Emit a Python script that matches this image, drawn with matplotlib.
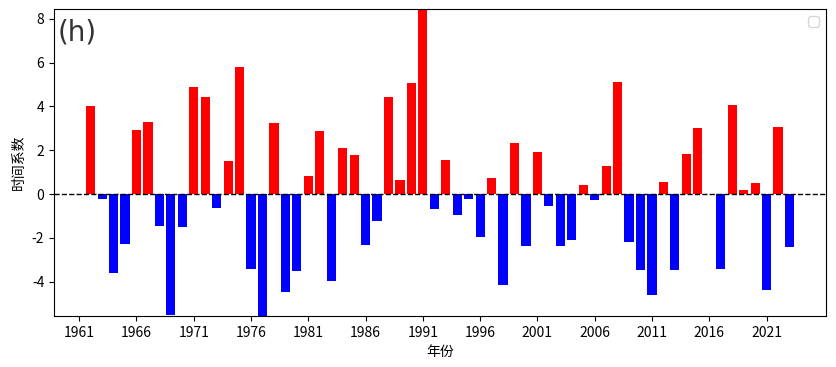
import matplotlib
matplotlib.use("Agg")
import matplotlib.pyplot as plt
import numpy as np

plt.rcParams['font.family'] = ['Noto Sans CJK SC', 'DejaVu Sans']
plt.rcParams['axes.unicode_minus'] = False

years = list(range(1962, 2024))
values = [
    4.00, -0.23, -3.59, -2.27, 2.92, 3.29, -1.45, -5.51, -1.49, 4.89,   # 1962-1971
    4.43, -0.62, 1.51, 5.80, -3.44, -5.57, 3.24, -4.46, -3.50, 0.84,    # 1972-1981
    2.88, -3.96, 2.12, 1.80, -2.31, -1.22, 4.43, 0.64, 5.07, 8.45,      # 1982-1991
    -0.70, 1.55, -0.94, -0.21, -1.95, 0.73, -4.14, 2.33, -2.36, 1.92,   # 1992-2001
    -0.53, -2.36, -2.12, 0.43, -0.26, 1.29, 5.11, -2.21, -3.45, -4.60,  # 2002-2011
    0.55, -3.45, 1.83, 3.01, 0.00, -3.41, 4.06, 0.18, 0.50, -4.37,      # 2012-2021
    3.06, -2.41,                                                        # 2022-2023
]
xticks = list(range(1961, 2022, 5))
yticks = [-4, -2, 0, 2, 4, 6, 8]

fig = plt.figure(figsize=(8.37, 3.67), dpi=100)
ax = fig.add_axes([0.0645, 0.139, 0.9225, 0.8365])

colors = ['red' if v > 0 else 'blue' for v in values]
ax.bar(years, values, width=0.8, color=colors)
ax.axhline(0, color='black', linestyle='--', linewidth=1)

ax.set_xlim(1958.8, 2026.2)
ax.set_ylim(min(values), max(values))
ax.set_xticks(xticks)
ax.set_xticklabels([str(t) for t in xticks])
ax.set_yticks(yticks)
ax.tick_params(labelsize=10)
ax.set_xlabel('年份', fontsize=10)
ax.set_ylabel('时间系数', fontsize=10)
ax.text(0.005, 0.97, '(h)', transform=ax.transAxes, fontsize=20,
        color='#333333', va='top', ha='left', family='DejaVu Sans')
ax.legend(handles=[], labels=[], loc='upper right')

fig.savefig('out.png', dpi=100)
